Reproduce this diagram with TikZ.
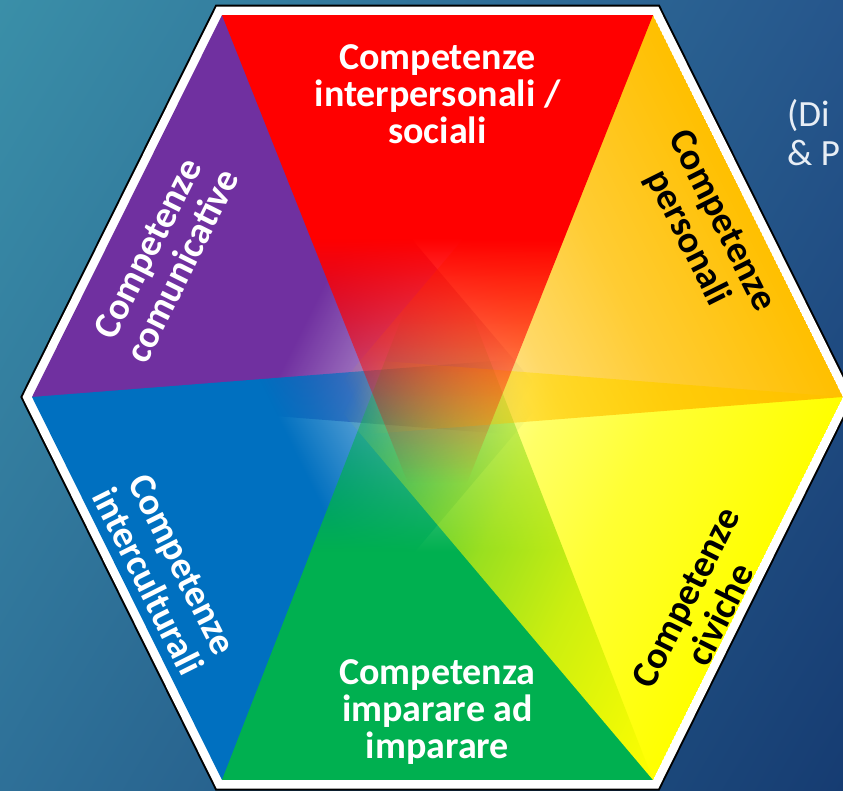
\documentclass[tikz,border=0pt]{standalone}
\usepackage{fontspec}
\setmainfont{Carlito}
\usetikzlibrary{calc,shadings,fadings}
\definecolor{cpurple}{RGB}{112,48,160}
\definecolor{cblue}{RGB}{0,112,192}
\definecolor{cgreen}{RGB}{0,176,80}
\definecolor{cyellow}{RGB}{255,255,0}
\definecolor{corange}{RGB}{255,192,0}
\definecolor{cred}{RGB}{255,0,0}
\definecolor{bgA}{RGB}{58,143,168}
\definecolor{bgB}{RGB}{38,86,140}
\definecolor{bgC}{RGB}{46,112,152}
\definecolor{bgD}{RGB}{22,60,114}
\definecolor{srctext}{RGB}{232,238,245}
% masks along local y (box 0..200bp, centred on the origin); base at 100bp, apex at 200bp
\pgfdeclareverticalshading{trifadeshadeA}{1200bp}{color(0bp)=(white); color(141bp)=(white); color(186bp)=(black); color(200bp)=(black)}
\pgfdeclarefading{trifadeA}{\pgfuseshading{trifadeshadeA}}
\pgfdeclareverticalshading{trifadeshadeB}{1200bp}{color(0bp)=(white); color(100bp)=(white); color(130bp)=(white!80!black); color(150bp)=(white!60!black); color(186bp)=(black); color(200bp)=(black)}
\pgfdeclarefading{trifadeB}{\pgfuseshading{trifadeshadeB}}
\begin{document}
\begin{tikzpicture}[x=1pt,y=-1pt,
  lbl/.style={font=\bfseries\fontsize{38}{37}\selectfont, align=center, inner sep=0pt},
  rlbl/.style={font=\bfseries\fontsize{38}{38.5}\selectfont, align=center, inner sep=0pt},
  srcstyle/.style={font=\fontsize{37}{40}\selectfont, text=srctext, anchor=base west, inner sep=0pt},
  hexborder/.style={line join=miter}]
\useasboundingbox (0,0) rectangle (843,790);
\clip (0,0) rectangle (843,790);
\shade[upper left=bgA, upper right=bgB, lower left=bgC, lower right=bgD] (0,0) rectangle (843,790);

\coordinate (TL) at (222,15);
\coordinate (TR) at (653,15);
\coordinate (R)  at (843,397);
\coordinate (BR) at (653,780);
\coordinate (BL) at (222,780);
\coordinate (L)  at (32,397);
\coordinate (aR) at (437.5,557);
\coordinate (aG) at (437.5,226);
\coordinate (aY) at (293,354);
\coordinate (aO) at (293,440);
\coordinate (aB) at (582,354);
\coordinate (aP) at (582,440);
\coordinate (mR) at (437.5,15);
\coordinate (mG) at (437.5,780);
\coordinate (mP) at (127,206);
\coordinate (mB) at (127,588.5);
\coordinate (mO) at (748,206);
\coordinate (mY) at (748,588.5);

\draw[hexborder, black, line width=21] (TL)--(TR)--(R)--(BR)--(BL)--(L)--cycle;
\draw[hexborder, white, line width=17] (TL)--(TR)--(R)--(BR)--(BL)--(L)--cycle;
\fill[white] (TL)--(TR)--(R)--(BR)--(BL)--(L)--cycle;

\begin{scope}
  \clip (TL)--(TR)--(R)--(BR)--(BL)--(L)--cycle;
  \fill[cpurple, path fading=trifadeA, fit fading=false,
        fading transform={shift={(mP)}, rotate=-116.45, yscale=5.11}] (TL)--(L)--(aP)--cycle;
  \fill[cblue, path fading=trifadeA, fit fading=false,
        fading transform={shift={(mB)}, rotate=-63.6, yscale=5.12}] (L)--(BL)--(aB)--cycle;
  \fill[cgreen, path fading=trifadeA, fit fading=false,
        fading transform={shift={(mG)}, rotate=0, yscale=5.54}] (BL)--(BR)--(aG)--cycle;
  \fill[cyellow, path fading=trifadeB, fit fading=false,
        fading transform={shift={(mY)}, rotate=63.6, yscale=5.12}] (BR)--(R)--(aY)--cycle;
  \fill[corange, path fading=trifadeB, fit fading=false,
        fading transform={shift={(mO)}, rotate=116.45, yscale=5.11}] (R)--(TR)--(aO)--cycle;
  \fill[cred, path fading=trifadeA, fit fading=false,
        fading transform={shift={(mR)}, rotate=180, yscale=5.42}] (TR)--(TL)--(aR)--cycle;
\end{scope}

\node[lbl, text=white] (tRed) at (437.5,94) {Competenze\\interpersonali /\\sociali};
\node[lbl, text=white] (tGreen) at (437.5,712) {Competenza\\imparare ad\\imparare};
\node[rlbl, text=white, rotate=63.4] (tPurple) at (165,257) {Competenze\\comunicative};
\node[rlbl, text=black, rotate=-63.4] (tOrange) at (704,230) {Competenze\\personali};
\node[rlbl, text=white, rotate=-63.4] (tBlue) at (165,573) {Competenze\\interculturali};
\node[rlbl, text=black, rotate=63.4] (tYellow) at (703,606) {Competenze\\civiche};

\node[srcstyle] (src1) at (787,126) {(Di};
\node[srcstyle] (src2) at (787,165) {\& P};
\end{tikzpicture}
\end{document}
